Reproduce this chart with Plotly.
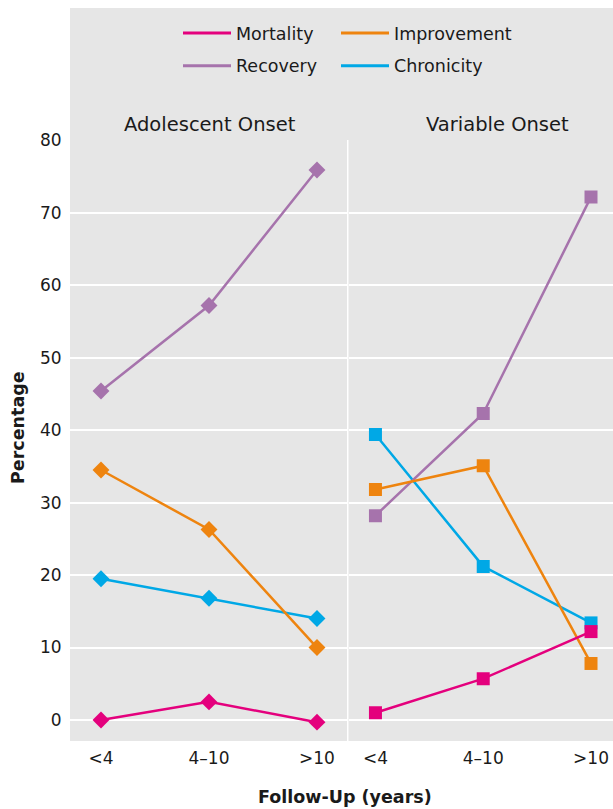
import plotly.graph_objects as go
from plotly.subplots import make_subplots

categories = ["<4", "4–10", ">10"]
series_names = ["Mortality", "Improvement", "Recovery", "Chronicity"]

adolescent_mortality = [0.0, 2.5, -0.3]
adolescent_improvement = [34.5, 26.3, 10.0]
adolescent_recovery = [45.4, 57.2, 75.9]
adolescent_chronicity = [19.5, 16.8, 14.0]

variable_mortality = [1.0, 5.7, 12.2]
variable_improvement = [31.8, 35.1, 7.8]
variable_recovery = [28.2, 42.3, 72.2]
variable_chronicity = [39.4, 21.2, 13.4]

panel_titles = ["Adolescent Onset", "Variable Onset"]
y_ticks = [0, 10, 20, 30, 40, 50, 60, 70, 80]

colors = {
    "Mortality": "#E4007D",
    "Improvement": "#EE840F",
    "Recovery": "#A673AC",
    "Chronicity": "#00A8E6",
}

FONT = "DejaVu Sans"
GREY = "#E6E6E6"
TXT = "#1a1a1a"

W, H = 613, 809
ML, MR, MT = 70, 0, 140
PLOT_BOTTOM = 741
MB = H - PLOT_BOTTOM
PW = W - ML - MR
PH = H - MT - MB

def px_x(x):
    return (x - ML) / PW

def px_y(y):
    return 1 + (MT - y) / PH

fig = make_subplots(rows=1, cols=2, shared_yaxes=True, horizontal_spacing=0)

panels = [
    {"Mortality": adolescent_mortality, "Improvement": adolescent_improvement,
     "Recovery": adolescent_recovery, "Chronicity": adolescent_chronicity},
    {"Mortality": variable_mortality, "Improvement": variable_improvement,
     "Recovery": variable_recovery, "Chronicity": variable_chronicity},
]
symbols = ["diamond", "square"]
draw_order = ["Chronicity", "Recovery", "Improvement", "Mortality"]

for ci, panel in enumerate(panels):
    for name in draw_order:
        fig.add_trace(
            go.Scatter(
                x=categories, y=panel[name], mode="lines+markers", name=name,
                line=dict(color=colors[name], width=2.5),
                marker=dict(symbol=symbols[ci], size=13, color=colors[name], line=dict(width=0)),
                showlegend=False, hoverinfo="skip",
            ),
            row=1, col=ci + 1,
        )

# legend-only traces: two columns, each its own legend
legend_cols = [["Mortality", "Recovery"], ["Improvement", "Chronicity"]]
for ci, col in enumerate(legend_cols):
    for name in col:
        fig.add_trace(
            go.Scatter(
                x=[None], y=[None], mode="lines", name=name,
                line=dict(color=colors[name], width=3),
                legend="legend" if ci == 0 else "legend2",
                legendgroup=name, showlegend=True,
            ),
            row=1, col=1,
        )

left_dom = [0, px_x(347)]
right_dom = [px_x(348.5), 1]

axis_common = dict(
    type="category", showgrid=False, zeroline=False, showline=False,
    ticks="outside", ticklen=2, tickcolor="rgba(0,0,0,0)",
    tickfont=dict(family=FONT, size=17, color=TXT),
)
fig.update_xaxes(domain=left_dom, range=[-0.287, 2.278], row=1, col=1, **axis_common)
fig.update_xaxes(domain=right_dom, range=[-0.25, 2.204], row=1, col=2, **axis_common)

fig.update_yaxes(
    range=[-2.9, 80.05], tickvals=y_ticks, showgrid=True, gridcolor="white", gridwidth=1.5,
    zeroline=False, showline=False, ticks="outside", ticklen=4, tickcolor="rgba(0,0,0,0)",
    tickfont=dict(family=FONT, size=17, color=TXT),
)

anns = []
for text, xc in [(panel_titles[0], 210), (panel_titles[1], 497)]:
    anns.append(dict(
        text=text, x=px_x(xc), y=px_y(124), xref="paper", yref="paper",
        xanchor="center", yanchor="middle", showarrow=False,
        font=dict(family=FONT, size=19.5, color=TXT),
    ))
anns.append(dict(
    text="<b>Follow-Up (years)</b>", x=px_x(345), y=px_y(797), xref="paper", yref="paper",
    xanchor="center", yanchor="middle", showarrow=False,
    font=dict(family=FONT, size=17.5, color=TXT),
))
anns.append(dict(
    text="<b>Percentage</b>", x=px_x(18), y=px_y(428), xref="paper", yref="paper",
    xanchor="center", yanchor="middle", showarrow=False, textangle=-90,
    font=dict(family=FONT, size=17.5, color=TXT),
))

legend_common = dict(
    orientation="v", xanchor="left", yanchor="middle", bgcolor="rgba(0,0,0,0)",
    font=dict(family=FONT, size=17.5, color=TXT), itemwidth=48,
    borderwidth=0, tracegroupgap=7,
)

fig.update_layout(
    width=W, height=H,
    margin=dict(l=ML, r=MR, t=MT, b=MB),
    paper_bgcolor="white", plot_bgcolor=GREY,
    annotations=anns,
    shapes=[dict(type="rect", xref="paper", yref="paper", x0=0, x1=1, y0=1, y1=px_y(8),
                 fillcolor=GREY, line=dict(width=0), layer="below")],
    legend=dict(x=px_x(178), y=px_y(49.5), **legend_common),
    legend2=dict(x=px_x(336), y=px_y(49.5), **legend_common),
    showlegend=True,
)

fig.write_html(
    "out.html",
    config={"displayModeBar": False},
    post_script="document.body.style.margin='0px';",
)
